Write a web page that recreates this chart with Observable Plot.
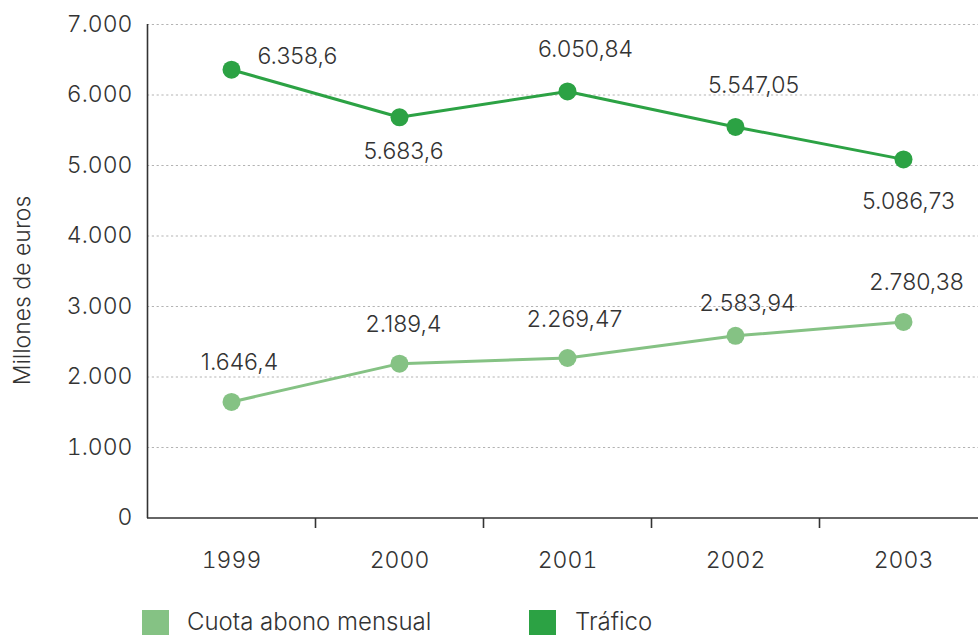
<!DOCTYPE html>
<html>
<head>
<meta charset="utf-8">
<script src="https://cdn.jsdelivr.net/npm/d3@7"></script>
<script src="https://cdn.jsdelivr.net/npm/@observablehq/plot@0.6"></script>
<style>
  html, body { margin: 0; padding: 0; background: #fff; }
  body { width: 978px; height: 635px; overflow: hidden; font-family: Inter, "Liberation Sans", sans-serif; font-weight: 300; color: #333; }
  #chart svg { display: block; }
  .legend { position: relative; height: 35px; }
  .legend .sw { position: absolute; top: 10px; width: 27px; height: 27px; }
  .legend .lb { position: absolute; top: 8px; font-size: 24px; line-height: 28px; color: #333; }
</style>
</head>
<body>
<div id="chart"></div>
<div class="legend" id="legend"></div>
<script>
// ---- data ----
const years = [1999, 2000, 2001, 2002, 2003];
const seriesNames = ["Cuota abono mensual", "Tráfico"];
const cuota = [1646.4, 2189.4, 2269.47, 2583.94, 2780.38];
const trafico = [6358.6, 5683.6, 6050.84, 5547.05, 5086.73];
const yTicks = [0, 1000, 2000, 3000, 4000, 5000, 6000, 7000];
const yTitle = "Millones de euros";

// ---- styles / layout ----
const colors = {"Cuota abono mensual": "#85c284", "Tráfico": "#2ca244"};
const textColor = "#333";
const font = "Inter, 'Liberation Sans', sans-serif";
// label offsets [dx, dy, anchor]
const traficoOff = [[26, -13, "start"], [4, 34, "middle"], [18, -42, "middle"], [18, -41, "middle"], [5, 42, "middle"]];
const cuotaOff = [[8, -39, "middle"], [4, -39, "middle"], [7, -38, "middle"], [12, -32, "middle"], [13, -39, "middle"]];

const loc = d3.formatLocale({decimal: ",", thousands: ".", grouping: [3], currency: ["", "€"]});
const fmt = loc.format(",");

const cuotaData = years.map((y, i) => ({year: y, value: cuota[i], series: seriesNames[0]}));
const traficoData = years.map((y, i) => ({year: y, value: trafico[i], series: seriesNames[1]}));
const bounds = years.slice(0, -1).map(y => y + 0.5);
const xDomain = [years[0] - 0.5, years[years.length - 1] + 0.5];

function labels(data, off) {
  return data.map((d, i) => Plot.text([d], {
    x: "year", y: "value", text: d => fmt(d.value),
    dx: off[i][0], dy: off[i][1], textAnchor: off[i][2],
    fontSize: 23, fill: textColor, fontWeight: 300
  }));
}

const plot = Plot.plot({
  width: 978,
  height: 600,
  marginLeft: 147,
  marginRight: 0,
  marginTop: 24,
  marginBottom: 82,
  style: {fontFamily: font, fontWeight: 300, color: textColor, background: "#fff"},
  x: {type: "linear", domain: xDomain, range: [147, 987], axis: null},
  y: {domain: [0, 7000], range: [517.5, 24], axis: null},
  marks: [
    Plot.ruleY(yTicks.filter(d => d > 0), {stroke: "#b3b3b3", strokeWidth: 1.2, strokeDasharray: "2.2,2.6"}),
    Plot.axisY({ticks: yTicks, tickSize: 0, tickPadding: 15, tickFormat: fmt, fontSize: 23, fill: textColor,
      label: null}),
    Plot.text([yTitle], {frameAnchor: "left", dx: -125, dy: 19, rotate: -90, fontSize: 23, fill: textColor, fontWeight: 300, textAnchor: "middle"}),
    Plot.ruleX([xDomain[0]], {stroke: "#333", strokeWidth: 1.6}),
    Plot.ruleY([0], {stroke: "#333", strokeWidth: 1.6}),
    Plot.axisX({ticks: bounds, tickSize: 10, tickFormat: () => "", stroke: "#333", strokeWidth: 1.6, label: null}),
    Plot.axisX({ticks: years, tickSize: 0, tickPadding: 33, tickFormat: d => String(d), fontSize: 23, fill: textColor, label: null}),
    Plot.line(cuotaData, {x: "year", y: "value", stroke: colors[seriesNames[0]], strokeWidth: 3}),
    Plot.line(traficoData, {x: "year", y: "value", stroke: colors[seriesNames[1]], strokeWidth: 3}),
    Plot.dot(cuotaData, {x: "year", y: "value", r: 9, fill: colors[seriesNames[0]]}),
    Plot.dot(traficoData, {x: "year", y: "value", r: 9, fill: colors[seriesNames[1]]}),
    ...labels(traficoData, traficoOff),
    ...labels(cuotaData, cuotaOff)
  ]
});
document.getElementById("chart").appendChild(plot);

// legend
const legendPos = [[142, 187], [529, 575]];
const legend = document.getElementById("legend");
seriesNames.forEach((name, i) => {
  const sw = document.createElement("div");
  sw.className = "sw";
  sw.style.left = legendPos[i][0] + "px";
  sw.style.background = colors[name];
  legend.appendChild(sw);
  const lb = document.createElement("div");
  lb.className = "lb";
  lb.style.left = legendPos[i][1] + "px";
  lb.textContent = name;
  legend.appendChild(lb);
});
</script>
</body>
</html>
